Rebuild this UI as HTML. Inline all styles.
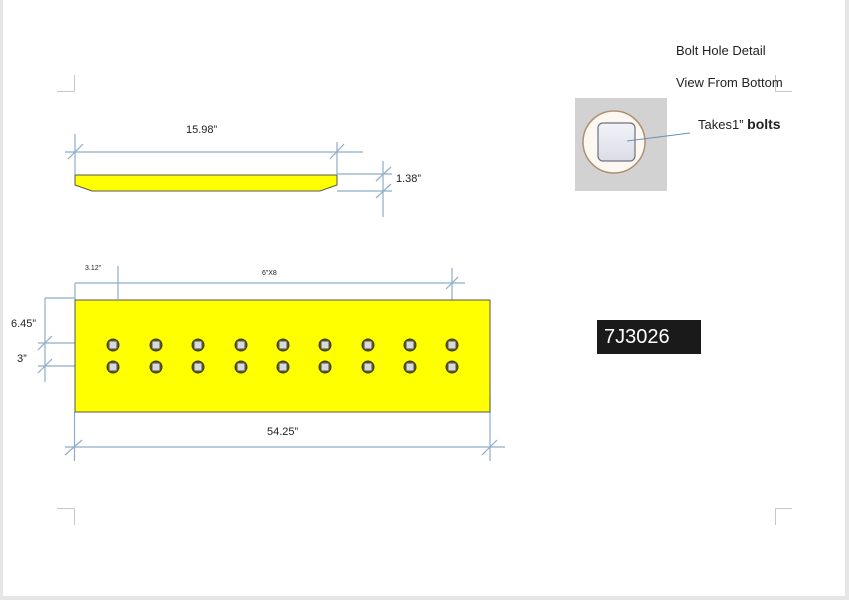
<!DOCTYPE html>
<html><head><meta charset="utf-8"><style>
html,body{margin:0;padding:0;background:#fff;}
body{width:849px;height:600px;overflow:hidden;position:relative;font-family:"Liberation Sans",sans-serif;}
.t{position:absolute;color:#222;white-space:nowrap;}
</style></head><body>
<svg width="849" height="600" style="position:absolute;left:0;top:0">
<defs>
<radialGradient id="hole" cx="50%" cy="50%" r="50%"><stop offset="70%" stop-color="#5a5a20"/><stop offset="100%" stop-color="#3a3a10"/></radialGradient>
<linearGradient id="sq" x1="0" y1="0" x2="0" y2="1"><stop offset="0" stop-color="#f2f2f8"/><stop offset="1" stop-color="#dcdce8"/></linearGradient>
</defs>
<!-- page border -->
<rect x="0" y="0" width="3" height="600" fill="#e6e6e6"/>
<rect x="845" y="0" width="4" height="600" fill="#e6e6e6"/>
<rect x="0" y="596" width="849" height="4" fill="#e6e6e6"/>
<!-- corner marks -->
<g stroke="#c8c8c8" stroke-width="1" fill="none">
<path d="M74.5 75 V91.5 H57"/>
<path d="M775.5 75 V91.5 H792"/>
<path d="M57 508.5 H74.5 V525"/>
<path d="M792 508.5 H775.5 V525"/>
</g>
<!-- top plate -->
<path d="M75 175 H337 V185 L320 191 H92 L75 185 Z" fill="#ffff00" stroke="#555" stroke-width="1"/>
<g stroke="#8fadc8" stroke-width="1.2" fill="none">
<line x1="65" y1="152" x2="363" y2="152"/>
<line x1="75" y1="134" x2="75" y2="175"/>
<line x1="337" y1="142" x2="337" y2="175"/>
<line x1="68" y1="159" x2="83" y2="144"/>
<line x1="330" y1="159" x2="344" y2="144"/>
<line x1="337" y1="174" x2="392" y2="174"/>
<line x1="337" y1="191" x2="392" y2="191"/>
<line x1="383" y1="161" x2="383" y2="217"/>
<line x1="376" y1="181" x2="391" y2="167"/>
<line x1="376" y1="198" x2="391" y2="184"/>
<!-- bottom plate dims -->
<line x1="75" y1="283" x2="465" y2="283"/>
<line x1="75" y1="283" x2="75" y2="300"/>
<line x1="118" y1="266" x2="118" y2="299"/>
<line x1="452" y1="268" x2="452" y2="302"/>
<line x1="446" y1="289" x2="458" y2="277"/>
<line x1="45" y1="298" x2="75" y2="298"/>
<line x1="45" y1="298" x2="45" y2="382"/>
<line x1="38" y1="343" x2="75" y2="343"/>
<line x1="38" y1="366" x2="75" y2="366"/>
<line x1="38" y1="350" x2="52" y2="336"/>
<line x1="38" y1="373" x2="52" y2="359"/>
<line x1="65" y1="447" x2="505" y2="447"/>
<line x1="74.5" y1="412" x2="74.5" y2="461"/>
<line x1="490" y1="395" x2="490" y2="461"/>
<line x1="65" y1="455" x2="82" y2="440"/>
<line x1="482" y1="455" x2="497" y2="440"/>
</g>
<!-- bottom plate -->
<rect x="75" y="300" width="415" height="112" fill="#ffff00" stroke="#555" stroke-width="1"/>
<g>
<g id="h">
<circle cx="113" cy="345" r="6.5" fill="url(#hole)"/><rect x="109.5" y="341.5" width="7" height="7" fill="#d8d8e4"/>
<circle cx="113" cy="367" r="6.5" fill="url(#hole)"/><rect x="109.5" y="363.5" width="7" height="7" fill="#d8d8e4"/>
</g>
<use href="#h" x="43"/><use href="#h" x="85"/><use href="#h" x="128"/><use href="#h" x="170"/>
<use href="#h" x="212"/><use href="#h" x="255"/><use href="#h" x="297"/><use href="#h" x="339"/>
</g>
<!-- detail -->
<rect x="575" y="98" width="92" height="93" fill="#d2d2d2"/>
<circle cx="614" cy="142" r="31" fill="#fbf8f2" stroke="#b09070" stroke-width="1.5"/>
<rect x="598" y="123" width="37" height="38" rx="5" fill="url(#sq)" stroke="#707080" stroke-width="1.2"/>
<line x1="627" y1="141" x2="690" y2="133" stroke="#6a90b8" stroke-width="1"/>
<!-- label box -->
<rect x="597" y="320" width="104" height="34" fill="#1a1a1a"/>
</svg>
<div class="t" style="left:186px;top:124px;font-size:11px;">15.98”</div>
<div class="t" style="left:396px;top:173px;font-size:11px;">1.38”</div>
<div class="t" style="left:85px;top:265px;font-size:7px;">3.12”</div>
<div class="t" style="left:262px;top:270px;font-size:7px;">6”X8</div>
<div class="t" style="left:11px;top:318px;font-size:11px;">6.45”</div>
<div class="t" style="left:17px;top:353px;font-size:11px;">3”</div>
<div class="t" style="left:267px;top:426px;font-size:11px;">54.25”</div>
<div class="t" style="left:676px;top:43px;font-size:13px;">Bolt Hole Detail</div>
<div class="t" style="left:676px;top:75px;font-size:13px;">View From Bottom</div>
<div class="t" style="left:698px;top:116px;font-size:13px;">Takes1”&nbsp;<b style="font-size:14px">bolts</b></div>
<div class="t" style="left:604px;top:326px;font-size:20px;color:#fff;">7J3026</div>
</body></html>
